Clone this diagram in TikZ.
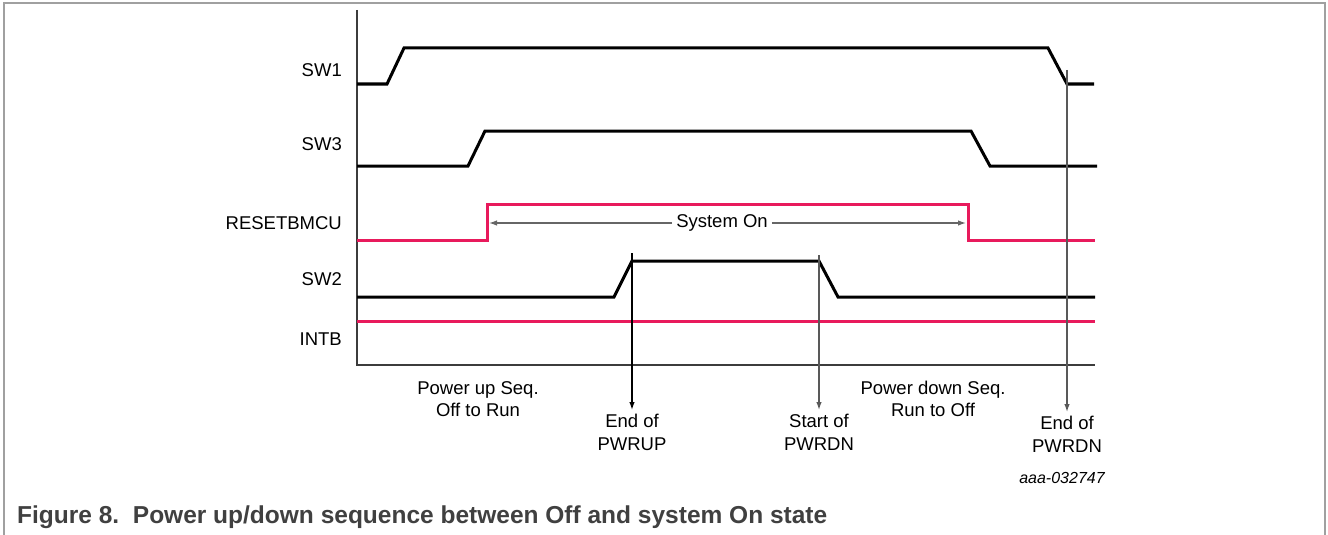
\documentclass[tikz,border=0pt]{standalone}
\usepackage{fontspec}
\setmainfont{Liberation Sans}
\usetikzlibrary{arrows.meta}
\definecolor{sigred}{RGB}{232,26,92}
\definecolor{framegray}{RGB}{160,160,160}
\definecolor{axisgray}{RGB}{60,60,60}
\definecolor{capgray}{RGB}{64,64,64}
\tikzset{
  sig/.style={line width=3pt, black, line join=miter},
  redsig/.style={line width=3pt, sigred, line join=miter},
  axisline/.style={line width=1.8pt, axisgray},
  marker/.style={line width=1.3pt},
  lbl/.style={font=\fontsize{18.5}{22.5}\selectfont, inner sep=0pt, align=center},
  siglbl/.style={font=\fontsize{18.5}{22.5}\selectfont, inner sep=0pt, anchor=east},
  tip/.style={-{Latex[length=8pt,width=5.5pt]}}
}
\begin{document}
\begin{tikzpicture}[x=1pt,y=-1pt]
\useasboundingbox (0,0) rectangle (1328,535);
% frame
\draw[framegray, line width=1.5pt] (4,535) -- (4,3) -- (1325,3) -- (1325,535);
% axes
\draw[axisline] (357,10) -- (357,365) -- (1095,365);
% signal labels
\node[siglbl] (l1) at (342,70) {SW1};
\node[siglbl] (l3) at (342,144) {SW3};
\node[siglbl] (lr) at (342,223) {RESETBMCU};
\node[siglbl] (l2) at (342,279) {SW2};
\node[siglbl] (li) at (342,339) {INTB};
% waveforms
\draw[sig] (357,84) -- (387,84) -- (404,48) -- (1048,48) -- (1067,84) -- (1094,84);
\draw[sig] (357,166) -- (468,166) -- (485,131) -- (971,131) -- (990,166) -- (1097,166);
\draw[redsig] (357,240) -- (487,240) -- (487,204) -- (968,204) -- (968,240) -- (1095,240);
\draw[sig] (357,297) -- (614,297) -- (632,261) -- (819,261) -- (838,297) -- (1095,297);
\draw[redsig] (357,321) -- (1095,321);
% system on
\node[lbl, fill=white, inner xsep=4pt] (son) at (722,223) {System On};
\coordinate (sonl) at (489,223);
\coordinate (sonr) at (966,223);
\draw[tip, line width=1.2pt, gray!80!black] (son.west) -- (sonl);
\draw[tip, line width=1.2pt, gray!80!black] (son.east) -- (sonr);
% bottom labels
\node[lbl] (pu) at (478,399) {Power up Seq.\\Off to Run};
\node[lbl] (pd) at (933,399) {Power down Seq.\\Run to Off};
\node[lbl, anchor=north, inner ysep=4pt] (eup) at (632,410) {End of\\PWRUP};
\node[lbl, anchor=north, inner ysep=4pt] (sdn) at (819,410) {Start of\\PWRDN};
\node[lbl, anchor=north, inner ysep=4pt] (edn) at (1067,412) {End of\\PWRDN};
\coordinate (eupt) at (632,253);
\coordinate (sdnt) at (819,255);
\coordinate (ednt) at (1067,70);
\draw[marker, tip, black] (eupt) -- (eup.north);
\draw[marker, tip, gray!70!black] (sdnt) -- (sdn.north);
\draw[marker, tip, gray!70!black] (ednt) -- (edn.north);
% id
\node[font=\fontsize{16}{19}\selectfont\itshape, inner sep=0pt] (id) at (1062,478) {aaa-032747};
% caption
\node[font=\fontsize{24.5}{28}\selectfont\bfseries, text=capgray, anchor=west, inner sep=0pt] (cap) at (17,517) {Figure 8.\ \ Power up/down sequence between Off and system On state};
\end{tikzpicture}
\end{document}
